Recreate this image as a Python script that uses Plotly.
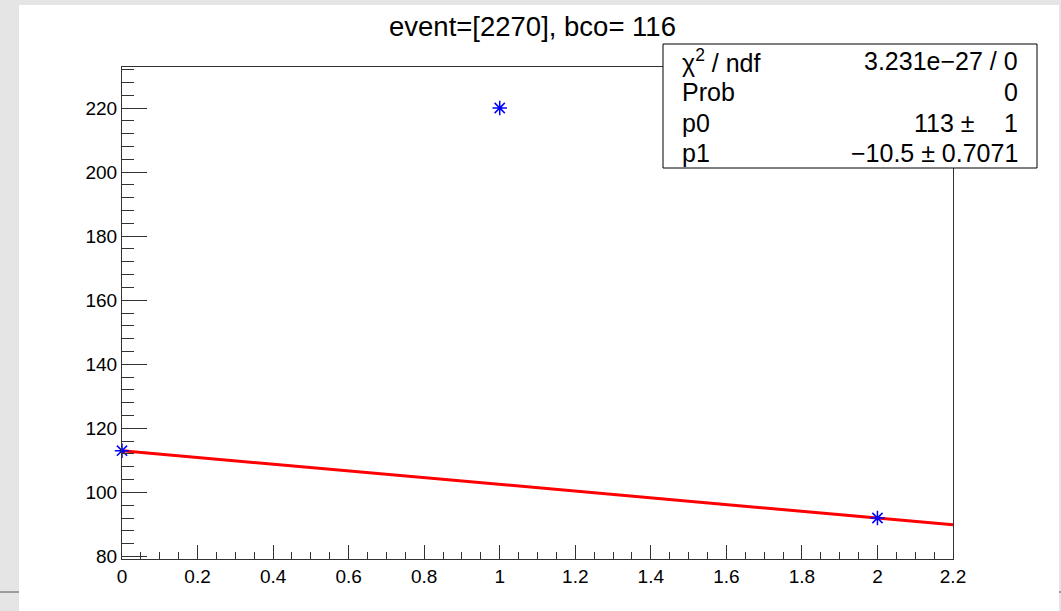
import plotly.graph_objects as go

# ---- data ----
point_x = [0.0, 1.0, 2.0]
point_y = [113.0, 220.0, 92.0]
fit_p0 = 113.0
fit_p1 = -10.5
fit_x = [0.0, 2.2]
fit_y = [fit_p0 + fit_p1 * v for v in fit_x]
x_ticks = [0, 0.2, 0.4, 0.6, 0.8, 1, 1.2, 1.4, 1.6, 1.8, 2, 2.2]
y_ticks = [80, 100, 120, 140, 160, 180, 200, 220]
title_text = "event=[2270], bco= 116"
stats_labels = ["χ<sup>2</sup> / ndf", "Prob", "p0", "p1"]
stats_values = ["3.231e\u221227 / 0", "0", "1", "\u221210.5 \u00b1 0.7071"]

W, H = 1061, 611
L, R, T, B = 122, 953, 67, 559


def px(x):
    return (x - L) / (R - L)


def py(y):
    return (B - y) / (B - T)


FONT = "Liberation Sans, Arial, Helvetica, sans-serif"

fig = go.Figure()
fig.add_trace(go.Scatter(x=fit_x, y=fit_y, mode="lines",
                         line=dict(color="#ff0000", width=3),
                         showlegend=False, hoverinfo="skip"))
fig.add_trace(go.Scatter(x=point_x, y=point_y, mode="markers",
                         marker=dict(symbol="asterisk-open", size=12,
                                     color="#0000ff",
                                     line=dict(color="#0000ff", width=1.5)),
                         cliponaxis=False, showlegend=False))

axis_common = dict(showgrid=False, zeroline=False, showline=True, mirror=True,
                   linecolor="#333333", linewidth=1, ticks="inside",
                   tickcolor="#333333", tickwidth=1,
                   tickfont=dict(family=FONT, size=19, color="#000000"))

fig.update_xaxes(range=[0, 2.2], tickvals=x_ticks, ticklen=14,
                 minor=dict(ticks="inside", ticklen=7, dtick=0.05, tick0=0,
                            tickcolor="#333333", tickwidth=1, showgrid=False),
                 **axis_common)
fig.update_yaxes(range=[79.2, 232.8], tickvals=y_ticks, ticklen=25,
                 minor=dict(ticks="inside", ticklen=12, dtick=4, tick0=80,
                            tickcolor="#333333", tickwidth=1, showgrid=False),
                 **axis_common)

shapes = [
    # dark window line behind canvas
    dict(type="line", xref="paper", yref="paper", x0=px(0), x1=px(W),
         y0=py(592), y1=py(592), line=dict(color="#555555", width=1),
         layer="below"),
    # white canvas
    dict(type="rect", xref="paper", yref="paper", x0=px(19), x1=px(1059),
         y0=py(5), y1=py(H + 5), fillcolor="#ffffff", line=dict(width=0),
         layer="below"),
    # stats box
    dict(type="rect", xref="paper", yref="paper", x0=px(663), x1=px(1037),
         y0=py(44), y1=py(168), fillcolor="#ffffff",
         line=dict(color="#000000", width=1), layer="above"),
]

annotations = [
    dict(text=title_text, xref="paper", yref="paper", x=px(532), y=py(26),
         xanchor="center", yanchor="middle", showarrow=False,
         font=dict(family=FONT, size=27.5, color="#000000")),
]
row_y = [61, 92, 123, 153]
for lab, yy in zip(stats_labels, row_y):
    annotations.append(dict(text=lab, xref="paper", yref="paper", x=px(680),
                            y=py(yy), xanchor="left", yanchor="middle",
                            showarrow=False,
                            font=dict(family=FONT, size=25, color="#000000")))
for val, yy in zip(stats_values, row_y):
    annotations.append(dict(text=val, xref="paper", yref="paper", x=px(1020),
                            y=py(yy), xanchor="right", yanchor="middle",
                            showarrow=False,
                            font=dict(family=FONT, size=25, color="#000000")))
annotations.append(dict(text="113 \u00b1", xref="paper", yref="paper", x=px(977),
                        y=py(row_y[2]), xanchor="right", yanchor="middle",
                        showarrow=False,
                        font=dict(family=FONT, size=25, color="#000000")))

fig.update_layout(width=W, height=H, autosize=False,
                  margin=dict(l=L, r=W - R, t=T, b=H - B, autoexpand=False),
                  paper_bgcolor="#e5e5e5", plot_bgcolor="rgba(0,0,0,0)",
                  shapes=shapes, annotations=annotations)

fig.write_html("out.html")
